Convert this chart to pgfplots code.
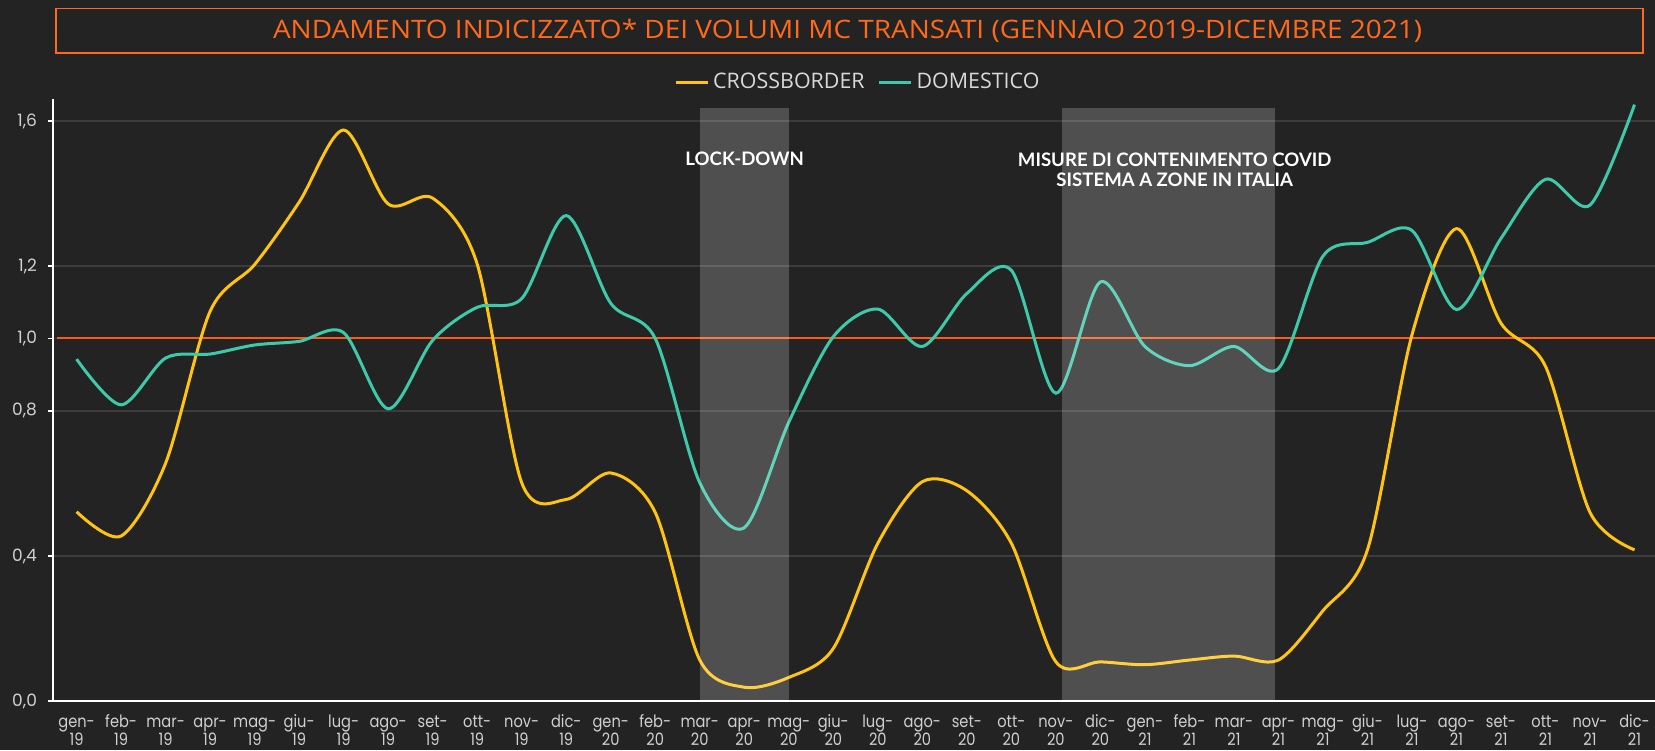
\documentclass[border=0pt]{standalone}
\usepackage{fontspec}
\setmainfont{Poppins}
\newfontfamily\tickfont[FakeStretch=0.86]{Poppins}
\newfontfamily\titlefont[FakeStretch=1.1]{Open Sans}
\newfontfamily\legfont{Open Sans}
\newfontfamily\labfont{Lato}
\usepackage{pgfplots}
\usepackage{pgfplotstable}
\pgfplotsset{compat=1.18}
\definecolor{bg}{HTML}{232323}
\definecolor{gridc}{HTML}{3C3C3E}
\definecolor{cbcol}{HTML}{FFC312}
\definecolor{domcol}{HTML}{3EC9AB}
\definecolor{refor}{HTML}{FF5A14}
\definecolor{titleor}{HTML}{FF6A1A}
\definecolor{tickgray}{HTML}{D0D0D0}
\definecolor{leggray}{HTML}{D9D9D9}
\newcommand{\tl}[2]{\vphantom{fb}#1-\\#2}

\pgfplotstableread{
x cb dom
0 0.522 0.943
1 0.455 0.817
2 0.656 0.946
3 1.075 0.957
4 1.204 0.982
5 1.376 0.992
6 1.575 1.016
7 1.371 0.806
8 1.387 0.995
9 1.205 1.086
10 0.602 1.110
11 0.556 1.339
12 0.629 1.097
13 0.520 1.000
14 0.113 0.602
15 0.038 0.478
16 0.065 0.769
17 0.145 1.005
18 0.435 1.081
19 0.605 0.978
20 0.580 1.124
21 0.435 1.188
22 0.108 0.849
23 0.108 1.156
24 0.100 0.978
25 0.113 0.925
26 0.124 0.978
27 0.113 0.917
28 0.249 1.227
29 0.417 1.265
30 1.010 1.298
31 1.303 1.080
32 1.042 1.276
33 0.923 1.439
34 0.520 1.368
35 0.417 1.645
}\data

\begin{document}
\begin{tikzpicture}
\fill[bg] (0pt,0pt) rectangle (827.5pt,375pt);
\useasboundingbox (0pt,0pt) rectangle (827.5pt,375pt);
\draw[titleor, line width=0.6pt] (28pt,348.5pt) rectangle (821.5pt,370.75pt);
\node[text=titleor, font=\titlefont\fontsize{12.7}{14}\selectfont, inner sep=0pt] at (423.75pt,359.6pt) {ANDAMENTO INDICIZZATO* DEI VOLUMI MC TRANSATI (GENNAIO 2019-DICEMBRE 2021)};
\begin{axis}[
  at={(26.5pt,24.5pt)}, anchor=south west,
  scale only axis, width=801pt, height=300.9pt,
  xmin=-0.53, xmax=35.46, ymin=0, ymax=1.66,
  axis x line=bottom, axis y line=left,
  axis line style={-},
  x axis line style={white, line width=1.3pt},
  y axis line style={white, line width=1pt},
  xtick={0,...,35},
  xticklabels={{\tl{gen}{19}},{\tl{feb}{19}},{\tl{mar}{19}},{\tl{apr}{19}},{\tl{mag}{19}},{\tl{giu}{19}},{\tl{lug}{19}},{\tl{ago}{19}},{\tl{set}{19}},{\tl{ott}{19}},{\tl{nov}{19}},{\tl{dic}{19}},
               {\tl{gen}{20}},{\tl{feb}{20}},{\tl{mar}{20}},{\tl{apr}{20}},{\tl{mag}{20}},{\tl{giu}{20}},{\tl{lug}{20}},{\tl{ago}{20}},{\tl{set}{20}},{\tl{ott}{20}},{\tl{nov}{20}},{\tl{dic}{20}},
               {\tl{gen}{21}},{\tl{feb}{21}},{\tl{mar}{21}},{\tl{apr}{21}},{\tl{mag}{21}},{\tl{giu}{21}},{\tl{lug}{21}},{\tl{ago}{21}},{\tl{set}{21}},{\tl{ott}{21}},{\tl{nov}{21}},{\tl{dic}{21}}},
  xtick style={draw=none},
  xticklabel style={font=\tickfont\fontsize{8.5}{9.3}\selectfont, align=center, text=tickgray, inner sep=0pt, yshift=-3.9pt},
  ytick={0,0.4,0.8,1.0,1.2,1.6},
  ytick style={white, line width=0.8pt},
  tick align=outside, major tick length=2.5pt,
  yticklabel style={font=\fontsize{8.5}{9}\selectfont, text=tickgray, xshift=-2pt, /pgf/number format/.cd, fixed, fixed zerofill, precision=1, use comma, assume math mode=true},
  ymajorgrids, grid style={gridc, line width=0.6pt},
  legend style={at={(0.503,1)}, anchor=center, yshift=8.3pt, draw=none, fill=none, text=leggray, font=\legfont\fontsize{10.7}{12}\selectfont, legend columns=2, /tikz/every even column/.append style={column sep=4.5pt}},
  legend image code/.code={\draw[#1, line width=1.5pt] (0pt,0pt) -- (16pt,0pt);},
  clip=false,
]
\addplot[refor, line width=1pt, forget plot] coordinates {(-0.45,1) (35.46,1)};
\addplot[cbcol, line width=1.5pt, smooth, tension=0.5] table[x=x, y=cb] {\data};
\addlegendentry{CROSSBORDER}
\addplot[domcol, line width=1.5pt, smooth, tension=0.5] table[x=x, y=dom] {\data};
\addlegendentry{DOMESTICO}
\addplot[draw=none, fill=white, fill opacity=0.2, forget plot] coordinates {(14,0) (16,0) (16,1.637) (14,1.637)} -- cycle;
\addplot[draw=none, fill=white, fill opacity=0.2, forget plot] coordinates {(22.14,0) (26.92,0) (26.92,1.635) (22.14,1.635)} -- cycle;
\node[text=white, font=\labfont\bfseries\fontsize{9.3}{11}\selectfont] at (axis cs:15.01,1.495) {LOCK-DOWN};
\node[text=white, font=\labfont\bfseries\fontsize{9.3}{10}\selectfont, align=center] at (axis cs:24.67,1.466) {MISURE DI CONTENIMENTO COVID\\SISTEMA A ZONE IN ITALIA};
\end{axis}
\end{tikzpicture}
\end{document}
